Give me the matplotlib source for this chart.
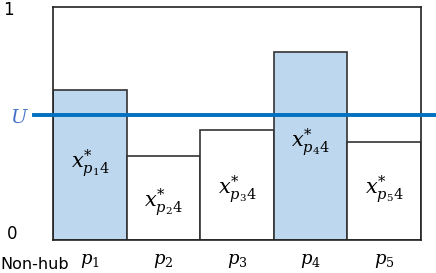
import matplotlib.pyplot as plt

# Bar shares for each non-hub node
nodes = ["p_1", "p_2", "p_3", "p_4", "p_5"]
shares = [0.644, 0.362, 0.472, 0.808, 0.42]
is_hub_like = [True, False, False, True, False]
u_level = 0.536
label_y = [0.33, 0.165, 0.22, 0.42, 0.22]

plt.rcParams['mathtext.fontset'] = 'dejavuserif'

fig = plt.figure(figsize=(4.36, 2.73), dpi=100)
ax = fig.add_axes([53 / 436, 33 / 273, 368 / 436, 233 / 273])

xs = list(range(len(nodes)))
colors = ['#BDD7EE' if h else 'white' for h in is_hub_like]
ax.bar(xs, shares, width=1, align='edge', color=colors, edgecolor='#333333', linewidth=1.2)

# threshold line U, running past the box on both sides
ax.plot([-0.26, 5.19], [u_level, u_level], color='#0070C0', linewidth=2.8, clip_on=False, zorder=5)
ax.text(-0.45, u_level - 0.01, "$U$", color='#4472C4', fontsize=14, ha='center', va='center')

for x, n, ly in zip(xs, nodes, label_y):
    ax.text(x + 0.5, ly, r"$x^{*}_{%s4}$" % n, fontsize=15, ha='center', va='center', zorder=6)

ax.set_xlim(0, 5)
ax.set_ylim(0, 1)
ax.set_xticks([x + 0.5 for x in xs])
ax.set_xticklabels(["$%s$" % n for n in nodes], fontsize=13)
ax.tick_params(axis='x', length=0, pad=9)
ax.set_yticks([])
for s in ax.spines.values():
    s.set_color('#222222')
    s.set_linewidth(1.2)

ax.text(-0.61, 0.985, "1", fontsize=12, ha='center', va='center')
ax.text(-0.56, 0.025, "0", fontsize=12, ha='center', va='center')
fig.text(0.0, 1 / 273, "Non-hub", fontsize=11.5, ha='left', va='bottom')

fig.savefig("out.png", dpi=100)
